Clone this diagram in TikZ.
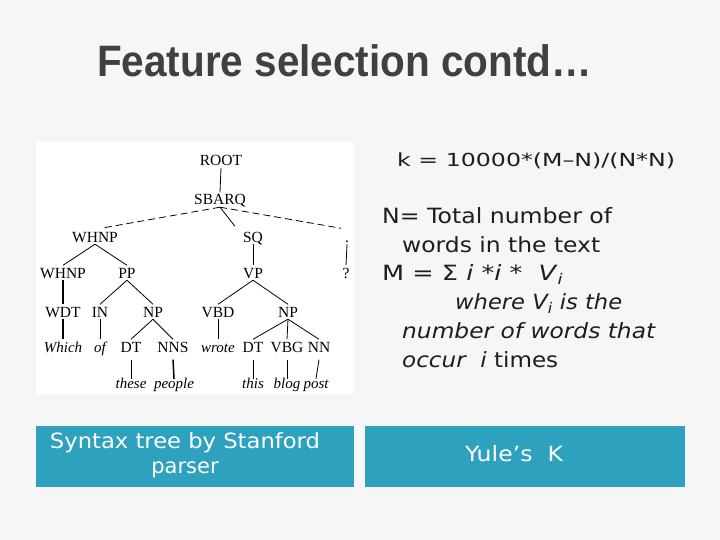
\documentclass[tikz,border=0pt]{standalone}
\usepackage{fontspec}
\usepackage{graphicx}
\setmainfont{DejaVu Sans}
\newfontfamily\titlefont{Liberation Sans}
\newfontfamily\treefont{Liberation Serif}
\usetikzlibrary{calc}
\definecolor{slidebg}{HTML}{F6F6F6}
\definecolor{titlegray}{HTML}{404040}
\definecolor{boxblue}{HTML}{2EA1BF}
\definecolor{bodytext}{HTML}{1E1E1E}
\newcommand\fitw[2]{\resizebox{#1}{\height}{#2}}
\begin{document}
\begin{tikzpicture}[x=1pt,y=-1pt,
  txt/.style={inner sep=0pt, anchor=base west, text=bodytext},
  tag/.style={font=\treefont\fontsize{15.5}{17}\selectfont, inner xsep=1pt, inner ysep=2pt, text height=10.5pt, text depth=0pt, anchor=base},
  deep/.style={tag, text depth=5.5pt},
  word/.style={tag, text height=7pt, font=\treefont\itshape\fontsize{15}{17}\selectfont},
  iword/.style={tag, text depth=5.5pt, font=\treefont\itshape\fontsize{15}{17}\selectfont},
  edge/.style={line width=0.8pt, black},
  thick edge/.style={line width=1.5pt, black},
  dash edge/.style={line width=0.8pt, black, dash pattern=on 7pt off 4pt},
  boxnode/.style={fill=boxblue, draw=none, minimum width=318pt, minimum height=61pt, anchor=north west, inner sep=0pt},
  boxtext/.style={text=white, inner sep=0pt, anchor=base, font=\fontsize{21}{24}\selectfont}
]
\useasboundingbox (0,0) rectangle (720,540);
\fill[slidebg] (0,0) rectangle (720,540);

% title
\node[inner sep=0pt, anchor=base west, text=titlegray, font=\titlefont\bfseries\fontsize{44}{48}\selectfont] (title) at (97,77) {\fitw{495pt}{Feature selection contd…}};

% tree picture
\fill[white] (36,142) rectangle (354,394);

\node[tag] (root) at (221,166) {ROOT};
\node[tag] (sbarq) at (220,205) {SBARQ};
\node[tag] (whnp) at (95,242) {WHNP};
\node[tag] (sq) at (253,242) {SQ};
\node[tag] (dot) at (347,242) {.};
\node[tag] (whnp2) at (63,278) {WHNP};
\node[tag] (pp) at (127,278) {PP};
\node[tag] (vp) at (253,278) {VP};
\node[tag] (q) at (346,278) {?};
\node[tag] (wdt) at (63,317) {WDT};
\node[tag] (in) at (100,317) {IN};
\node[tag] (np1) at (153,317) {NP};
\node[tag] (vbd) at (218,317) {VBD};
\node[tag] (np2) at (288,317) {NP};
\node[iword] (which) at (63,352) {Which};
\node[iword] (of) at (100,352) {of};
\node[deep] (dt1) at (131,352) {DT};
\node[deep] (nns) at (173,352) {NNS};
\node[iword] (wrote) at (218,352) {wrote};
\node[deep] (dt2) at (253,352) {DT};
\node[deep] (vbg) at (287,352) {VBG};
\node[deep] (nn) at (319,352) {NN};
\node[word] (these) at (131,388) {these};
\node[word] (people) at (174,388) {people};
\node[word] (this) at (253,388) {this};
\node[word] (blog) at (287,388) {blog};
\node[word] (post) at (316,388) {post};

\draw[edge] (root.south) -- (sbarq.north);
\draw[dash edge, shorten >=6pt] (sbarq.south) -- (whnp.north);
\draw[edge] (sbarq.south) -- ($(sq.north)+(-18,-3)$);
\draw[dash edge, shorten >=6pt] (sbarq.south) -- (dot.north);
\draw[edge] (whnp.south) -- (whnp2.north);
\draw[edge] (whnp.south) -- (pp.north);
\draw[edge] (sq.south) -- (vp.north);
\draw[edge] (dot.south) -- (q.north);
\draw[thick edge] (whnp2.south) -- (wdt.north);
\draw[edge] (pp.south) -- (in.north);
\draw[edge] (pp.south) -- (np1.north);
\draw[edge] (vp.south) -- (vbd.north);
\draw[edge] (vp.south) -- (np2.north);
\draw[thick edge] (wdt.south) -- (which.north);
\draw[edge] (in.south) -- (of.north);
\draw[edge] (np1.south) -- (dt1.north);
\draw[edge] (np1.south) -- (nns.north);
\draw[edge] (vbd.south) -- (wrote.north);
\draw[edge] (np2.south) -- (dt2.north);
\draw[edge] (np2.south) -- (vbg.north);
\draw[edge] (np2.south) -- (nn.north);
\draw[edge] (dt1.south) -- (these.north);
\draw[thick edge] (nns.south) -- (people.north);
\draw[edge] (dt2.south) -- (this.north);
\draw[edge] (vbg.south) -- (blog.north);
\draw[edge] (nn.south) -- (post.north);

% right text
\node[txt, font=\fontsize{18}{20}\selectfont] (kline) at (397,167) {\fitw{278pt}{k = 10000*(M–N)/(N*N)}};
\node[txt, font=\fontsize{21}{24}\selectfont] (nline) at (382,223) {\fitw{230pt}{N= Total number of}};
\node[txt, font=\fontsize{21}{24}\selectfont] (wline) at (402,252) {\fitw{198pt}{words in the text}};
\node[txt, font=\fontsize{21}{24}\selectfont] (mline) at (382,280) {\fitw{181pt}{M = Σ \textit{i *i *\ \ V}\textsubscript{\textit{i}}}};
\node[txt, font=\fontsize{21}{24}\selectfont] (whline) at (455,309) {\fitw{167pt}{\itshape where V\textsubscript{i} is the}};
\node[txt, font=\fontsize{21}{24}\selectfont] (numline) at (402,338) {\fitw{253pt}{\itshape number of words that}};
\node[txt, font=\fontsize{21}{24}\selectfont] (occline) at (402,367) {\fitw{156pt}{\textit{occur\ \ i} times}};

% bottom boxes
\node[boxnode] (lbox) at (36,426) {};
\node[boxnode, minimum width=320pt] (rbox) at (365,426) {};
\node[boxtext] (ltext1) at (185,448) {\fitw{270pt}{Syntax tree by Stanford}};
\node[boxtext] (ltext2) at (185,473) {parser};
\node[boxtext] (rtext) at (514,461) {\fitw{98pt}{Yule’s\ \ K}};
\end{tikzpicture}
\end{document}
